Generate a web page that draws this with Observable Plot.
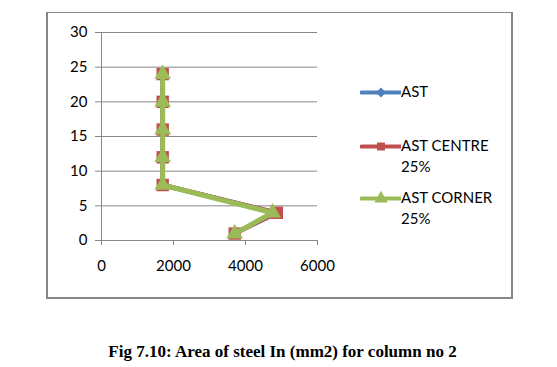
<!DOCTYPE html>
<html>
<head>
<meta charset="utf-8">
<script src="https://cdn.jsdelivr.net/npm/d3@7"></script>
<script src="https://cdn.jsdelivr.net/npm/@observablehq/plot@0.6"></script>
<style>
  html, body { margin: 0; padding: 0; background: #fff; }
  #wrap { position: relative; width: 557px; height: 367px; overflow: hidden; }
  #frame { position: absolute; left: 46px; top: 12px; width: 463px; height: 284px;
           border-top: 1px solid #868686; border-left: 2px solid #868686;
           border-right: 2px solid #868686; border-bottom: 2px solid #868686; }
  #chart { position: absolute; left: 0; top: 0; }
  #legend { position: absolute; left: 360px; top: 0; font-family: Lato, "Open Sans", sans-serif; font-size: 15px; color: #000; }
  .item { position: absolute; left: 0; display: flex; align-items: flex-start; white-space: nowrap; line-height: 21px; }
  .item svg { flex: none; margin-top: 1px; }
  #caption { position: absolute; left: 0; width: 565px; top: 342px; text-align: center;
             font-family: "Liberation Serif", "Times New Roman", serif; font-weight: bold; font-size: 17px; }
</style>
</head>
<body>
<div id="wrap">
  <div id="frame"></div>
  <div id="chart"></div>
  <div id="legend"></div>
  <div id="caption">Fig 7.10: Area of steel In (mm2) for column no 2</div>
</div>
<script>
// Data
const levels = [1, 4, 8, 12, 16, 20, 24];
const ast = [3700, 4870, 1700, 1700, 1700, 1700, 1700];
const astCentre = [3700, 4870, 1700, 1700, 1700, 1700, 1700];
const astCorner = [3700, 4750, 1700, 1700, 1700, 1700, 1700];
const seriesNames = ["AST", "AST CENTRE 25%", "AST CORNER 25%"];
const seriesLabels = [["AST"], ["AST CENTRE", "25%"], ["AST CORNER", "25%"]];
const seriesColors = ["#4F81BD", "#C0504D", "#9BBB59"];
const seriesSymbols = ["diamond2", "square", "triangle"];
const xTicks = [0, 2000, 4000, 6000];
const yTicks = [0, 5, 10, 15, 20, 25, 30];

const rows = [];
[ast, astCentre, astCorner].forEach((vals, s) => {
  vals.forEach((v, i) => rows.push({series: seriesNames[s], x: v, y: levels[i]}));
});

const grid = "#868686";
const font = "Lato, 'Open Sans', sans-serif";
const fmt = d => String(d);

const marks = [
  Plot.ruleY(yTicks.filter(d => d > 0), {x1: 0, x2: 6000, stroke: grid, strokeWidth: 1, strokeOpacity: 1}),
  Plot.ruleX([0], {y1: 0, y2: 30, stroke: grid, strokeWidth: 1}),
  Plot.ruleY([0], {x1: 0, x2: 6000, stroke: grid, strokeWidth: 1}),
  Plot.axisY(yTicks, {tickSize: 6, tickPadding: 8, stroke: grid, strokeOpacity: 1, fontSize: 15, fill: "#000", label: null, tickFormat: fmt}),
  Plot.axisX(xTicks, {tickSize: 5, tickPadding: 15, stroke: grid, strokeOpacity: 1, fontSize: 15, fill: "#000", label: null, tickFormat: fmt})
];
const sizes = [5, 7, 6.2];
seriesNames.forEach((name, s) => {
  const data = rows.filter(r => r.series === name);
  marks.push(Plot.line(data, {x: "x", y: "y", stroke: seriesColors[s], strokeWidth: s === 2 ? 5 : 4.5, strokeLinejoin: "miter"}));
  marks.push(Plot.dot(data, {x: "x", y: "y", fill: seriesColors[s], stroke: "none",
    symbol: () => seriesSymbols[s], r: sizes[s]}));
});

const chart = Plot.plot({
  width: 557,
  height: 300,
  marginLeft: 101,
  marginRight: 240,
  marginTop: 32,
  marginBottom: 60,
  style: {fontFamily: font, fontSize: "15px", background: "transparent", overflow: "visible"},
  x: {domain: [0, 6000]},
  y: {domain: [0, 30]},
  marks
});
document.getElementById("chart").appendChild(chart);

// Legend
const legend = document.getElementById("legend");
const legendTops = [81, 135, 187];
seriesNames.forEach((name, s) => {
  const item = document.createElement("div");
  item.className = "item";
  item.style.top = legendTops[s] + "px";
  const sw = Plot.plot({
    width: 41, height: 20, margin: 0,
    x: {domain: [0, 1], range: [1, 40], axis: null},
    y: {domain: [0, 1], range: [19, 1], axis: null},
    style: {background: "transparent"},
    marks: [
      Plot.line([{x: 0, y: 0.5}, {x: 1, y: 0.5}], {x: "x", y: "y", stroke: seriesColors[s], strokeWidth: 4, strokeLinecap: "round"}),
      Plot.dot([{x: 0.5, y: 0.5}], {x: "x", y: "y", fill: seriesColors[s], symbol: () => seriesSymbols[s], r: s === 2 ? 5 : 4.5})
    ]
  });
  item.appendChild(sw);
  const t = document.createElement("div");
  t.innerHTML = seriesLabels[s].join("<br>");
  item.appendChild(t);
  legend.appendChild(item);
});
</script>
</body>
</html>
